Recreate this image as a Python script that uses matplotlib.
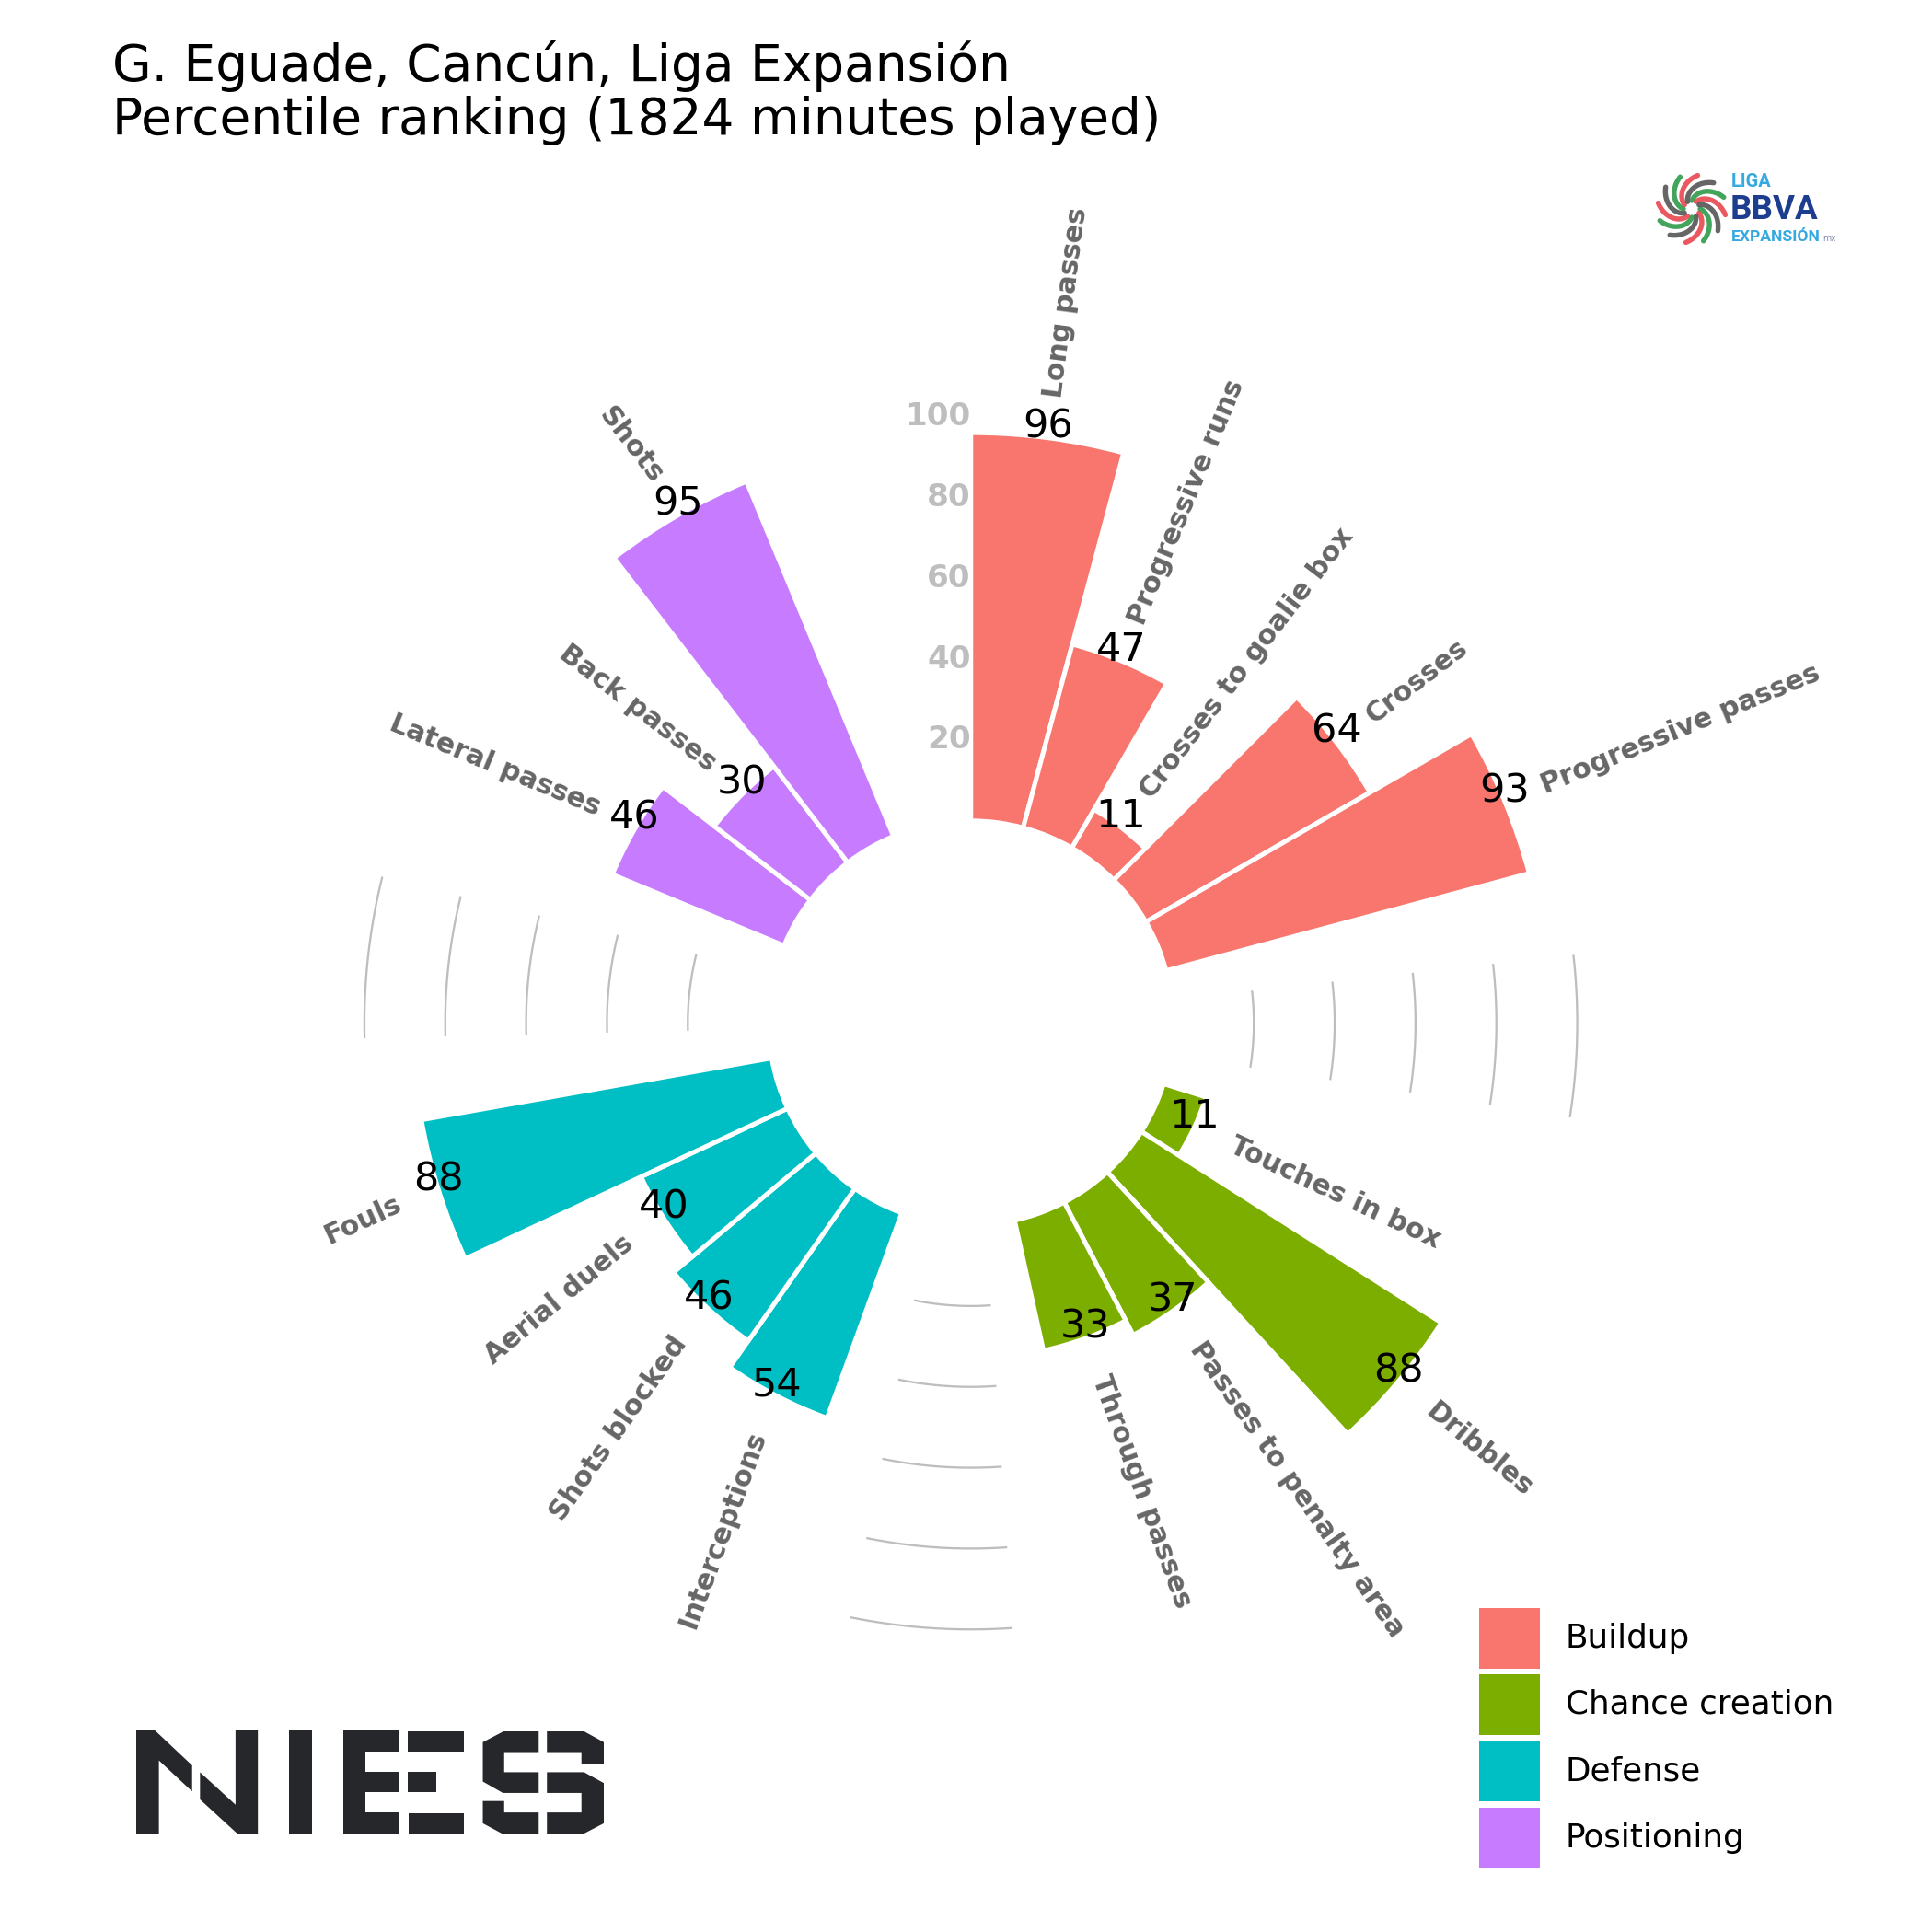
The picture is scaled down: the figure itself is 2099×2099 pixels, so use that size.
import numpy as np
import matplotlib.pyplot as plt
from matplotlib.patches import Polygon, Rectangle

# ---------------- data ----------------
groups = ['Buildup', 'Chance creation', 'Defense', 'Positioning']
group_colors = ['#F8766D', '#7CAE00', '#00BFC4', '#C77CFF']

buildup_labels = ['Long passes', 'Progressive runs', 'Crosses to goalie box', 'Crosses', 'Progressive passes']
buildup_values = [96, 47, 11, 64, 93]
chance_labels = ['Touches in box', 'Dribbles', 'Passes to penalty area', 'Through passes']
chance_values = [11, 88, 37, 33]
defense_labels = ['Interceptions', 'Shots blocked', 'Aerial duels', 'Fouls']
defense_values = [54, 46, 40, 88]
positioning_labels = ['Lateral passes', 'Back passes', 'Shots']
positioning_values = [46, 30, 95]

ref_levels = [20, 40, 60, 80, 100]

title = "G. Eguade, Cancún, Liga Expansión\nPercentile ranking (1824 minutes played)"

# ---------------- layout ----------------
W = H = 2099
BAR_W = 15.0    # degrees per bar
GAP = 32.5      # degrees between groups

label_sets = [buildup_labels, chance_labels, defense_labels, positioning_labels]
value_sets = [buildup_values, chance_values, defense_values, positioning_values]

angles, values, labels, colors = [], [], [], []
gap_centers = []
pos = 0.0
for i, (labs, vals) in enumerate(zip(label_sets, value_sets)):
    for lab, val in zip(labs, vals):
        angles.append(pos + BAR_W / 2)
        values.append(val)
        labels.append(lab)
        colors.append(group_colors[i])
        pos += BAR_W
    if i < len(groups) - 1:
        gap_centers.append(pos + GAP / 2)
    pos += GAP

fig = plt.figure(figsize=(W / 300, H / 300), dpi=300)
fig.patch.set_facecolor('white')

# overlay in pixel coordinates (logos, legend)
deco = fig.add_axes([0, 0, 1, 1])
deco.set_xlim(0, W)
deco.set_ylim(H, 0)
deco.axis('off')

ax = fig.add_axes([0.084, 0.052, 0.837, 0.837], projection='polar')
ax.set_theta_zero_location('N')
ax.set_theta_direction(-1)
ax.set_ylim(-50, 150)
ax.axis('off')

theta = np.deg2rad(angles)
ax.bar(theta, values, width=np.deg2rad(BAR_W), bottom=0, color=colors,
       edgecolor='white', linewidth=1.2, zorder=2)

# reference arcs in the gaps
for gc in gap_centers:
    t = np.deg2rad(np.linspace(gc - 7.6, gc + 7.6, 50))
    for lvl in ref_levels:
        ax.plot(t, [lvl] * len(t), color='#bebebe', lw=0.55, zorder=1)

# scale labels at the top
for lvl in ref_levels:
    ax.text(0, lvl, str(lvl), ha='right', va='center', color='#bebebe',
            fontsize=8.2, fontweight='bold')

# values and names
for th, ang, val, lab in zip(theta, angles, values, labels):
    ax.text(th, val, str(val), ha='center', va='baseline', fontsize=10.3, color='black')
    if ang < 180:
        rot, ha = 90 - ang, 'left'
    else:
        rot, ha = 270 - (ang - BAR_W / 2), 'right'
    ax.text(th, val + 10, lab, rotation=rot, rotation_mode='anchor', ha=ha, va='center',
            color='#666666', fontsize=7.2, fontweight='bold')

# title
fig.text(121.5 / W, 1 - 146 / H, title, ha='left', va='baseline', fontsize=13.2,
         linespacing=1.1, color='black')

# legend (ggplot-style keys)
key = 66
for i, (g, c) in enumerate(zip(groups, group_colors)):
    top = 1746.7 + i * 72.3
    deco.add_patch(Rectangle((1606.7, top), key, key, facecolor=c, edgecolor='none'))
    deco.text(1700.7, top + key / 2, g, ha='left', va='center', fontsize=8.6, color='black')

# NIEES logo (drawn in its own unit grid, then mapped to pixels)
def logo_xy(pts):
    return [(148 + (x - 78) * 508 / 1422, 1880 + (y - 665) * 112 / 333) for x, y in pts]

niees = [
    [(78, 665), (135, 665), (248, 778), (248, 862), (147, 762), (147, 998), (78, 998)],
    [(272, 800), (380, 905), (380, 665), (448, 665), (448, 998), (385, 998), (272, 888)],
    [(543, 665), (612, 665), (612, 998), (543, 998)],
    [(708, 665), (878, 665), (878, 733), (775, 733), (775, 800), (878, 800), (878, 865),
     (775, 865), (775, 930), (878, 930), (878, 998), (708, 998)],
    [(905, 668), (1075, 668), (1075, 733), (905, 733)],
    [(905, 800), (990, 800), (990, 865), (905, 865)],
    [(907, 933), (1075, 933), (1075, 998), (907, 998)],
    [(1132, 703), (1195, 668), (1302, 668), (1302, 735), (1197, 735), (1197, 800),
     (1302, 800), (1302, 867), (1193, 867), (1132, 830)],
    [(1132, 893), (1197, 893), (1197, 930), (1302, 930), (1302, 998), (1190, 998), (1132, 965)],
    [(1327, 668), (1440, 668), (1500, 703), (1500, 775), (1432, 775), (1432, 735), (1327, 735)],
    [(1327, 800), (1440, 800), (1500, 835), (1500, 965), (1440, 998), (1327, 998), (1327, 930),
     (1432, 930), (1432, 867), (1327, 867)],
]
for shape in niees:
    deco.add_patch(Polygon(logo_xy(shape), closed=True, facecolor='#26272b', edgecolor='none'))

# Liga BBVA Expansión logo: swirl + text
swirl_cols = ['#2e9a4a', '#e8464f', '#555555']
cx, cy = 1838, 227
tt = np.linspace(0, 1, 20)
for k in range(12):
    a = np.deg2rad(k * 30 + 70 * tt)
    r = 9 + 28 * tt
    deco.plot(cx + r * np.cos(a), cy + r * np.sin(a), color=swirl_cols[k % 3],
              lw=1.3, solid_capstyle='round', alpha=0.9)
deco.text(1881, 203, 'LIGA', color='#36a9e1', fontsize=4.8, fontweight='bold',
          family='Roboto', va='baseline')
deco.text(1880, 238, 'BBVA', color='#1d3e8e', fontsize=8.8, fontweight='bold',
          family='Roboto', va='baseline')
deco.text(1881, 262, 'EXPANSIÓN', color='#36a9e1', fontsize=4.2, fontweight='bold',
          family='Roboto', va='baseline')
deco.text(1980, 262, 'mx', color='#8c90b5', fontsize=2.5, family='Roboto', va='baseline')

fig.savefig('out.png', dpi=300, facecolor='white')
